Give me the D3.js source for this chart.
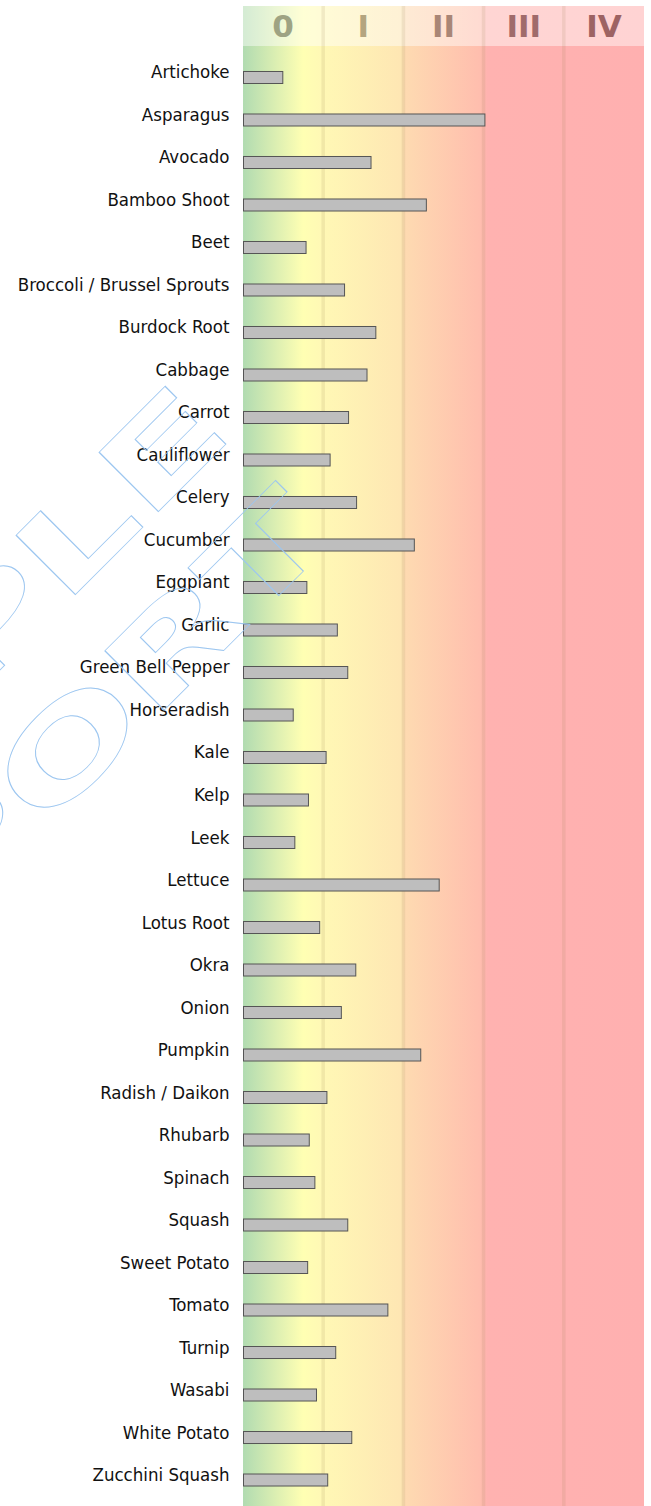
<!DOCTYPE html>
<html>
<head>
<meta charset="utf-8">
<script src="https://cdn.jsdelivr.net/npm/d3@7"></script>
<style>
  html, body { margin: 0; padding: 0; background: #ffffff; }
  svg { display: block; }
</style>
</head>
<body>
<div id="chart"></div>
<script>
const categories = [
  "Artichoke", "Asparagus", "Avocado", "Bamboo Shoot", "Beet",
  "Broccoli / Brussel Sprouts", "Burdock Root", "Cabbage", "Carrot", "Cauliflower",
  "Celery", "Cucumber", "Eggplant", "Garlic", "Green Bell Pepper",
  "Horseradish", "Kale", "Kelp", "Leek", "Lettuce",
  "Lotus Root", "Okra", "Onion", "Pumpkin", "Radish / Daikon",
  "Rhubarb", "Spinach", "Squash", "Sweet Potato", "Tomato",
  "Turnip", "Wasabi", "White Potato", "Zucchini Squash"
];
const values = [
  0.49, 3.01, 1.59, 2.28, 0.78,
  1.26, 1.65, 1.54, 1.31, 1.08,
  1.41, 2.13, 0.79, 1.17, 1.30,
  0.62, 1.03, 0.81, 0.64, 2.44,
  0.95, 1.40, 1.22, 2.21, 1.04,
  0.82, 0.89, 1.30, 0.80, 1.80,
  1.15, 0.91, 1.35, 1.05
];
const levelLabels = ["0", "I", "II", "III", "IV"];
const levelTicks = [0, 1, 2, 3, 4, 5];
const levelTextColors = ["#9ea383", "#b4a57f", "#a98676", "#a06b6b", "#9d6363"];
const gradientStops = [
  [0.00, "#b1dbb1"], [0.15, "#ffffb3"], [0.20, "#fff8b5"],
  [0.395, "#fee6b3"], [0.405, "#fedab1"], [0.59, "#ffbeae"],
  [0.61, "#ffb2b0"], [1.00, "#ffb0b0"]
];
const watermarkLines = ["SAMPLE", "REPORT"];

const W = 651, H = 1506;
const svg = d3.select("#chart").append("svg").attr("width", W).attr("height", H);

const x = d3.scaleLinear().domain([0, 5]).range([243, 644]);
const y = d3.scaleBand().domain(categories).range([46, 1511.5])
  .paddingInner(0.694).paddingOuter(0.588);
const headerTop = 6, headerBottom = 46;

const defs = svg.append("defs");
const grad = defs.append("linearGradient").attr("id", "bg")
  .attr("x1", "0%").attr("x2", "100%").attr("y1", "0%").attr("y2", "0%");
grad.selectAll("stop").data(gradientStops).join("stop")
  .attr("offset", d => d[0]).attr("stop-color", d => d[1]);

// background (header + plot)
svg.append("rect").attr("x", x(0)).attr("y", headerTop)
  .attr("width", x(5) - x(0)).attr("height", H - headerTop).attr("fill", "url(#bg)");
// lighter header
svg.append("rect").attr("x", x(0)).attr("y", headerTop)
  .attr("width", x(5) - x(0)).attr("height", headerBottom - headerTop)
  .attr("fill", "#ffffff").attr("fill-opacity", 0.45);

// separators
svg.selectAll("line.sep").data(levelTicks.slice(1, 5)).join("line")
  .attr("class", "sep")
  .attr("x1", d => x(d)).attr("x2", d => x(d))
  .attr("y1", headerTop).attr("y2", H)
  .attr("stroke", "rgb(150,120,80)").attr("stroke-opacity", 0.13).attr("stroke-width", 3.5);

// header labels
svg.selectAll("text.lvl").data(levelLabels).join("text")
  .attr("class", "lvl")
  .attr("x", (d, i) => x(i + 0.5)).attr("y", 37)
  .attr("text-anchor", "middle")
  .attr("font-family", "DejaVu Sans").attr("font-weight", "bold").attr("font-size", 31)
  .attr("fill", (d, i) => levelTextColors[i])
  .text(d => d);

// bars
svg.selectAll("rect.bar").data(values).join("rect")
  .attr("class", "bar")
  .attr("x", x(0) + 0.5)
  .attr("y", (d, i) => y(categories[i]) + 0.5)
  .attr("width", d => x(d) - x(0))
  .attr("height", y.bandwidth() - 1)
  .attr("fill", "#bebebe").attr("stroke", "#555555").attr("stroke-width", 1);

// labels
svg.selectAll("text.cat").data(categories).join("text")
  .attr("class", "cat")
  .attr("x", x(0) - 13.5)
  .attr("y", d => y(d) + y.bandwidth() / 2 + 1)
  .attr("text-anchor", "end")
  .attr("font-family", "'DejaVu Sans Condensed', 'DejaVu Sans', sans-serif")
  .attr("font-stretch", "condensed")
  .attr("font-size", 18.5)
  .attr("fill", "#111111")
  .text(d => d);

// watermark
const wm = svg.append("g").attr("fill", "none").attr("stroke", "#9cc6f0").attr("stroke-width", 1);
const wmPos = [[158.3, 511.7, 68.1], [158.3, 716, 156.5]];
wm.selectAll("text").data(watermarkLines).join("text")
  .attr("transform", (d, i) => `translate(${wmPos[i][0]},${wmPos[i][1]}) rotate(-45) scale(1.6,1)`)
  .attr("x", (d, i) => wmPos[i][2]).attr("y", 0)
  .attr("text-anchor", "end")
  .attr("font-family", "DejaVu Sans").attr("font-weight", "bold").attr("font-size", 115)
  .attr("vector-effect", "non-scaling-stroke")
  .text(d => d);
</script>
</body>
</html>
